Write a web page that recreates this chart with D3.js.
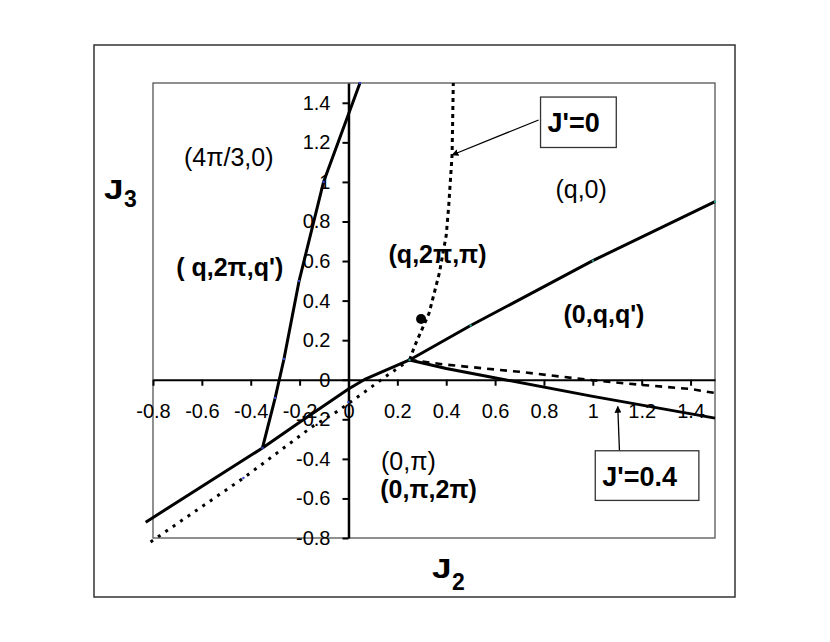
<!DOCTYPE html>
<html>
<head>
<meta charset="utf-8">
<script src="https://cdn.jsdelivr.net/npm/d3@7"></script>
<style>
  body { margin: 0; background: #fff; }
  text { font-family: "Liberation Sans", Arial, sans-serif; }
</style>
</head>
<body>
<div id="chart-area"></div>
<script>
// phase diagram J2 / J3

// tick values and labels
const X_TICKS = [-0.8, -0.6, -0.4, -0.2, 0, 0.2, 0.4, 0.6, 0.8, 1, 1.2, 1.4]
const X_TICK_LABELS = ["-0.8", "-0.6", "-0.4", "-0.2", "0", "0.2", "0.4", "0.6", "0.8", "1", "1.2", "1.4"]
const Y_TICKS = [-0.8, -0.6, -0.4, -0.2, 0, 0.2, 0.4, 0.6, 0.8, 1, 1.2, 1.4]
const Y_TICK_LABELS = ["-0.8", "-0.6", "-0.4", "-0.2", "0", "0.2", "0.4", "0.6", "0.8", "1", "1.2", "1.4"]

// solid phase boundaries [J2, J3]
const lineSteep = [[-0.352, -0.345], [-0.30, -0.092], [-0.264, 0.105], [-0.202, 0.50], [-0.102, 1.0], [0.047, 1.5]]
const lineLowerLeft = [[-0.83, -0.72], [-0.352, -0.345], [-0.2, -0.215], [0, -0.047], [0.064, 0], [0.25, 0.1]]
const lineUpperRight = [[0.25, 0.1], [0.5, 0.274], [1.0, 0.602], [1.5, 0.9]]
const lineLowerRight = [[0.25, 0.1], [0.4, 0.057], [0.64, 0], [1.0, -0.084], [1.5, -0.194]]

// dashed boundaries (J'=0)
const dashTop = [[0.25, 0.1], [0.27, 0.168], [0.33, 0.337], [0.372, 0.54], [0.40, 0.73], [0.41, 0.875], [0.424, 1.136], [0.429, 1.5]]
const dashLeft = [[-0.81, -0.82], [-0.43, -0.497], [-0.147, -0.236], [-0.046, -0.16], [0.05, -0.076], [0.153, 0.017], [0.25, 0.1]]
const dashRight = [[0.25, 0.1], [0.4, 0.076], [0.7, 0.04], [1.0, -0.003], [1.19, -0.025], [1.4, -0.047], [1.5, -0.067]]

// single point and small data markers
const blackPoint = [[0.297, 0.307]]
const blueMarks = [[-0.102, 1.0], [0.047, 1.5], [-0.202, 0.5], [-0.264, 0.105], [-0.3, -0.092], [-0.352, -0.345], [-0.43, -0.497], [0, -0.113]]
const tealMarks = [[0.25, 0.1], [0.5, 0.274], [1.0, 0.602], [1.5, 0.9]]

// region labels [text, J2, J3, bold]
const regionLabels = [
  ["(4π/3,0)", -0.673, 1.08, false],
  ["(q,0)", 0.847, 0.919, false],
  ["( q,2π,q')", -0.705, 0.522, true],
  ["(q,2π,π)", 0.164, 0.589, true],
  ["(0,q,q')", 0.88, 0.286, true],
  ["(0,π)", 0.133, -0.455, false],
  ["(0,π,2π)", 0.13, -0.597, true]
]

// callout boxes [text, J2 left, J3 top, J2 right, J3 bottom]
const boxes = [
  ["J'=0", 0.786, 1.429, 1.096, 1.174],
  ["J'=0.4", 1.01, -0.359, 1.434, -0.61]
]
// arrows [from, to]
const arrows = [
  [[0.778, 1.313], [0.424, 1.136]],
  [[1.109, -0.359], [1.102, -0.135]]
]

const W = 830
const H = 642
const PLOT = { LEFT: 153, RIGHT: 715, TOP: 83, BOTTOM: 538 }

const svg = d3.select("#chart-area").append("svg")
    .attr("width", W)
    .attr("height", H)

svg.append("defs").append("marker")
    .attr("id", "arrow")
    .attr("viewBox", "0 0 10 10")
    .attr("refX", 9)
    .attr("refY", 5)
    .attr("markerWidth", 7)
    .attr("markerHeight", 7)
    .attr("markerUnits", "userSpaceOnUse")
    .attr("orient", "auto")
  .append("path")
    .attr("d", "M0,0 L10,5 L0,10 Z")
    .attr("fill", "#000")

// outer frame
svg.append("rect")
    .attr("x", 94)
    .attr("y", 45)
    .attr("width", 641)
    .attr("height", 552)
    .attr("fill", "none")
    .attr("stroke", "#333")
    .attr("stroke-width", 1.5)

// plot frame
svg.append("rect")
    .attr("x", PLOT.LEFT)
    .attr("y", PLOT.TOP)
    .attr("width", PLOT.RIGHT - PLOT.LEFT)
    .attr("height", PLOT.BOTTOM - PLOT.TOP)
    .attr("fill", "none")
    .attr("stroke", "#555")
    .attr("stroke-width", 1.3)

const x = d3.scaleLinear()
    .domain([-0.8, 1.5])
    .range([PLOT.LEFT, PLOT.RIGHT])

const y = d3.scaleLinear()
    .domain([-0.8, 1.5])
    .range([PLOT.BOTTOM, PLOT.TOP])

// axes cross at zero
const xAxisCall = d3.axisBottom(x)
    .tickValues(X_TICKS)
    .tickFormat((d, i) => X_TICK_LABELS[i])
    .tickSize(6)
    .tickSizeOuter(0)
    .tickPadding(18)

const xAxisGroup = svg.append("g")
    .attr("class", "x axis")
    .attr("transform", `translate(0, ${y(0)})`)
    .call(xAxisCall)

const yAxisCall = d3.axisLeft(y)
    .tickValues(Y_TICKS)
    .tickFormat((d, i) => Y_TICK_LABELS[i])
    .tickSize(6)
    .tickSizeOuter(0)
    .tickPadding(12)

const yAxisGroup = svg.append("g")
    .attr("class", "y axis")
    .attr("transform", `translate(${x(0)}, 0)`)
    .call(yAxisCall)

svg.selectAll(".axis text")
    .attr("font-size", "20px")
    .attr("font-family", "Liberation Sans, Arial, sans-serif")
    .attr("fill", "#000")
svg.selectAll(".axis .tick line")
    .attr("stroke", "#000")
    .attr("stroke-width", 2)
xAxisGroup.select(".domain").attr("stroke", "#000").attr("stroke-width", 2)
yAxisGroup.select(".domain").attr("stroke", "#000").attr("stroke-width", 2.5)

// region labels
svg.selectAll(".region")
  .data(regionLabels)
  .enter().append("text")
    .attr("class", "region")
    .attr("x", d => x(d[1]))
    .attr("y", d => y(d[2]))
    .attr("font-size", "25px")
    .attr("font-weight", d => d[3] ? "bold" : "normal")
    .text(d => d[0])

const line = d3.line()
    .x(d => x(d[0]))
    .y(d => y(d[1]))

// dashed J'=0 lines
const dashed = [
  { pts: dashTop, dash: "4,4", w: 3 },
  { pts: dashLeft, dash: "3,6", w: 3 },
  { pts: dashRight, dash: "7,6", w: 2.6 }
]
svg.selectAll(".dash")
  .data(dashed)
  .enter().append("path")
    .attr("class", "dash")
    .attr("d", d => line(d.pts))
    .attr("fill", "none")
    .attr("stroke", "#000")
    .attr("stroke-width", d => d.w)
    .attr("stroke-dasharray", d => d.dash)

// solid lines
svg.selectAll(".solid")
  .data([lineSteep, lineLowerLeft, lineUpperRight, lineLowerRight])
  .enter().append("path")
    .attr("class", "solid")
    .attr("d", d => line(d))
    .attr("fill", "none")
    .attr("stroke", "#000")
    .attr("stroke-width", 3)
    .attr("stroke-linejoin", "round")

svg.selectAll(".blue")
  .data(blueMarks)
  .enter().append("circle")
    .attr("cx", d => x(d[0]))
    .attr("cy", d => y(d[1]))
    .attr("r", 1.2)
    .attr("fill", "#3344cc")

svg.selectAll(".teal")
  .data(tealMarks)
  .enter().append("circle")
    .attr("cx", d => x(d[0]))
    .attr("cy", d => y(d[1]))
    .attr("r", 1.2)
    .attr("fill", "#2a9d8f")

svg.selectAll(".pt")
  .data(blackPoint)
  .enter().append("circle")
    .attr("cx", d => x(d[0]))
    .attr("cy", d => y(d[1]))
    .attr("r", 5)
    .attr("fill", "#000")

// callouts
svg.selectAll(".arrow")
  .data(arrows)
  .enter().append("line")
    .attr("x1", d => x(d[0][0]))
    .attr("y1", d => y(d[0][1]))
    .attr("x2", d => x(d[1][0]))
    .attr("y2", d => y(d[1][1]))
    .attr("stroke", "#000")
    .attr("stroke-width", 1.3)
    .attr("marker-end", "url(#arrow)")

const boxG = svg.selectAll(".box")
  .data(boxes)
  .enter().append("g")

boxG.append("rect")
    .attr("x", d => x(d[1]))
    .attr("y", d => y(d[2]))
    .attr("width", d => x(d[3]) - x(d[1]))
    .attr("height", d => y(d[4]) - y(d[2]))
    .attr("fill", "#fff")
    .attr("stroke", "#333")
    .attr("stroke-width", 1.3)

boxG.append("text")
    .attr("x", d => x(d[1]) + 7)
    .attr("y", d => (y(d[2]) + y(d[4])) / 2 + 10)
    .attr("font-size", "27px")
    .attr("font-weight", "bold")
    .text(d => d[0])

// axis titles, J drawn a little wide like the original
function axisTitle(px, py, sub, subDy) {
  svg.append("text")
      .attr("transform", `translate(${px}, ${py}) scale(1.3, 1)`)
      .attr("font-size", "27px")
      .attr("font-weight", "bold")
      .text("J")
  svg.append("text")
      .attr("x", px + 20)
      .attr("y", py + subDy)
      .attr("font-size", "23px")
      .attr("font-weight", "bold")
      .text(sub)
}
axisTitle(104, 199, "3", 8)
axisTitle(432, 578, "2", 12)
</script>
</body>
</html>
